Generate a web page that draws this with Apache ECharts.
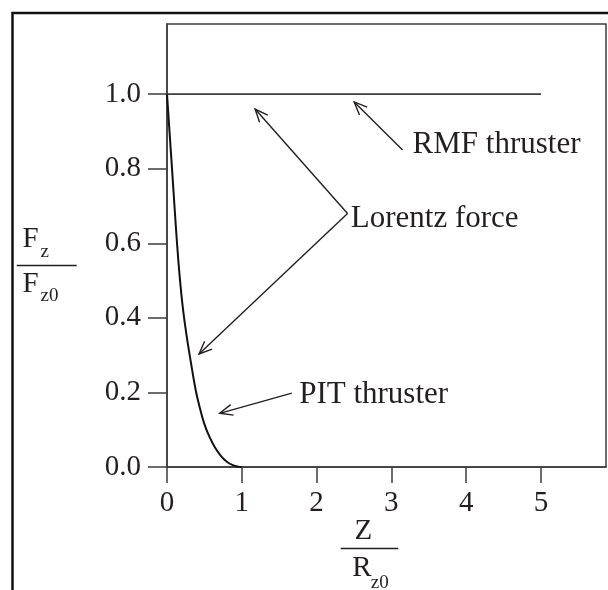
<!DOCTYPE html>
<html lang="en">
<head>
    <meta charset="utf-8"/>
    <title>Fz / Fz0</title>
    <script src="https://cdn.jsdelivr.net/npm/echarts@6.0.0/dist/echarts.min.js"></script>
</head>
<body style="margin: 0;">
<div id="chart" style="width: 608px;height: 590px;"></div>

<script type="text/javascript">
    // PIT thruster curve
    const pitZ = [0, 0.03, 0.067, 0.1, 0.134, 0.17, 0.21, 0.26, 0.32, 0.384, 0.44, 0.5, 0.57, 0.64, 0.72, 0.8, 0.88, 0.95, 1.0];
    const pitF = [1.0, 0.91, 0.80, 0.70, 0.60, 0.51, 0.43, 0.355, 0.28, 0.206, 0.158, 0.115, 0.08, 0.053, 0.03, 0.014, 0.005, 0.001, 0];
    // RMF thruster: flat line
    const rmfZ = [0, 5];
    const rmfF = [1.0, 1.0];

    const xTicks = [0, 1, 2, 3, 4, 5];
    const yTicks = [0, 0.2, 0.4, 0.6, 0.8, 1.0];

    // arrows: [tailZ, tailF, tipZ, tipF]
    const arrows = [
        [3.15, 0.850, 2.503, 0.979],   // RMF thruster
        [2.414, 0.680, 1.178, 0.960],  // Lorentz force (upper)
        [2.414, 0.680, 0.428, 0.303],  // Lorentz force (lower)
        [1.669, 0.198, 0.705, 0.144]   // PIT thruster
    ];
    const noteText = ['RMF thruster', 'Lorentz force', 'PIT thruster'];
    const notePos = [[3.284, 0.864], [2.457, 0.666], [1.767, 0.193]];

    const ink = '#231f20';
    const font = 'Liberation Serif';

    let chart = echarts.init(document.getElementById('chart'));

    function pairs(xs, ys) {
        return xs.map(function (x, i) {
            return [x, ys[i]];
        });
    }

    chart.setOption({
        animation: false,
        grid: {
            left: 167,
            top: 24,
            right: 2,
            bottom: 123,
            show: true,
            borderColor: '#3d3d3d',
            borderWidth: 1.5,
            outerBoundsMode: 'none'
        },
        xAxis: {
            type: 'value',
            min: 0,
            max: 5.87,
            interval: 1,
            splitLine: {show: false},
            axisLine: {show: true, lineStyle: {color: '#3d3d3d', width: 1.5}},
            axisTick: {show: true, length: 16, customValues: xTicks, lineStyle: {color: '#3d3d3d', width: 1.5}},
            axisLabel: {
                customValues: xTicks,
                margin: 22,
                color: ink,
                fontFamily: font,
                fontSize: 29
            }
        },
        yAxis: {
            type: 'value',
            min: 0,
            max: 1.188,
            interval: 0.2,
            splitLine: {show: false},
            axisLine: {show: true, lineStyle: {color: '#3d3d3d', width: 1.5}},
            axisTick: {show: true, length: 19, customValues: yTicks, lineStyle: {color: '#3d3d3d', width: 1.5}},
            axisLabel: {
                customValues: yTicks,
                margin: 26,
                color: ink,
                fontFamily: font,
                fontSize: 29,
                formatter: function (v) {
                    return v.toFixed(1);
                }
            }
        },
        graphic: [
            // outer frame (cropped at right/bottom)
            {type: 'rect', shape: {x: 12.5, y: 13, width: 640, height: 620}, style: {fill: null, stroke: '#111', lineWidth: 2.5}, silent: true},
            // Fz / Fz0
            {type: 'text', x: 22.5, y: 239.7, style: {text: 'F', font: '29px "Liberation Serif"', fill: ink, verticalAlign: 'middle'}},
            {type: 'text', x: 40.5, y: 252, style: {text: 'z', font: '19px "Liberation Serif"', fill: ink, verticalAlign: 'middle'}},
            {type: 'line', shape: {x1: 16.7, y1: 265.5, x2: 76.7, y2: 265.5}, style: {stroke: ink, lineWidth: 1.5}},
            {type: 'text', x: 22.5, y: 284.4, style: {text: 'F', font: '29px "Liberation Serif"', fill: ink, verticalAlign: 'middle'}},
            {type: 'text', x: 40.5, y: 296.3, style: {text: 'z0', font: '19px "Liberation Serif"', fill: ink, verticalAlign: 'middle'}},
            // Z / Rz0
            {type: 'text', x: 363.3, y: 531.4, style: {text: 'Z', font: '29px "Liberation Serif"', fill: ink, align: 'center', verticalAlign: 'middle'}},
            {type: 'line', shape: {x1: 340.7, y1: 548.5, x2: 398.3, y2: 548.5}, style: {stroke: ink, lineWidth: 1.5}},
            {type: 'text', x: 352.3, y: 568, style: {text: 'R', font: '29px "Liberation Serif"', fill: ink, verticalAlign: 'middle'}},
            {type: 'text', x: 370.7, y: 582.6, style: {text: 'z0', font: '19px "Liberation Serif"', fill: ink, verticalAlign: 'middle'}}
        ],
        series: [
            {
                name: 'PIT thruster',
                type: 'line',
                data: pairs(pitZ, pitF),
                smooth: 0.4,
                showSymbol: false,
                lineStyle: {color: '#111', width: 2}
            },
            {
                name: 'RMF thruster',
                type: 'line',
                data: pairs(rmfZ, rmfF),
                showSymbol: false,
                lineStyle: {color: '#3d3d3d', width: 1.8}
            },
            {
                name: 'arrows',
                type: 'custom',
                data: arrows,
                renderItem: function (params, api) {
                    let a = api.coord([api.value(0), api.value(1)]);
                    let b = api.coord([api.value(2), api.value(3)]);
                    let ang = Math.atan2(a[1] - b[1], a[0] - b[0]);
                    let h = 14, s = 0.4;
                    let p1 = [b[0] + h * Math.cos(ang + s), b[1] + h * Math.sin(ang + s)];
                    let p2 = [b[0] + h * Math.cos(ang - s), b[1] + h * Math.sin(ang - s)];
                    return {
                        type: 'group',
                        children: [
                            {type: 'line', shape: {x1: a[0], y1: a[1], x2: b[0], y2: b[1]}, style: {stroke: ink, lineWidth: 1.4}},
                            {type: 'polyline', shape: {points: [p1, b, p2]}, style: {stroke: ink, fill: null, lineWidth: 1.4}}
                        ]
                    };
                }
            },
            {
                name: 'notes',
                type: 'custom',
                data: notePos,
                renderItem: function (params, api) {
                    let p = api.coord([api.value(0), api.value(1)]);
                    return {
                        type: 'text',
                        x: p[0],
                        y: p[1],
                        style: {
                            text: noteText[params.dataIndex],
                            font: '31px "Liberation Serif"',
                            fill: ink,
                            verticalAlign: 'middle'
                        }
                    };
                }
            }
        ]
    });
</script>
</body>
</html>
